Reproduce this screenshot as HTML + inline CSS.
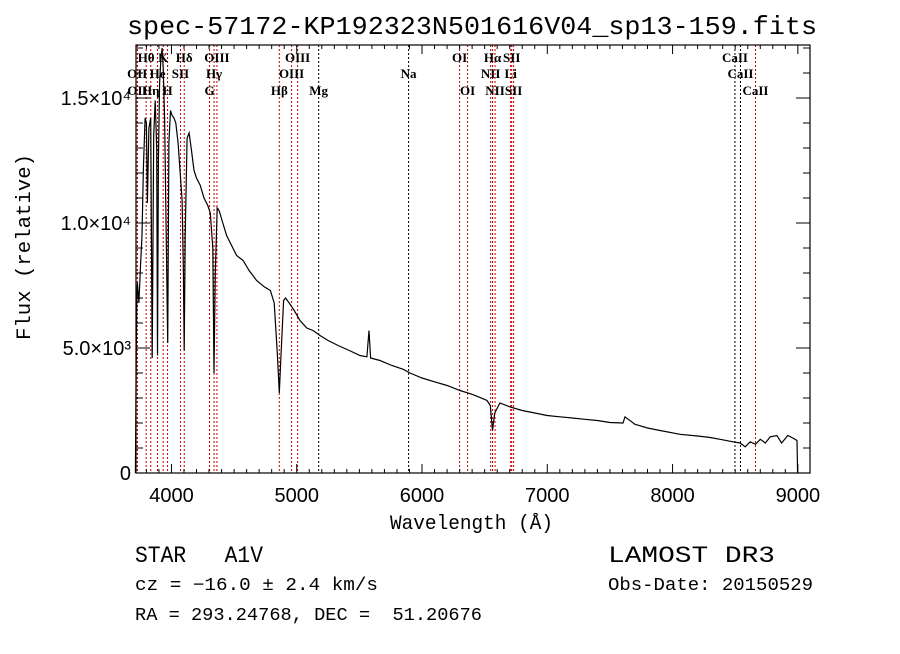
<!DOCTYPE html>
<html><head><meta charset="utf-8"><style>
body{margin:0;background:#fff;}
svg text{font-family:"Liberation Serif",serif;}
.mono{font-family:"Liberation Mono",monospace;}
.sans{font-family:"Liberation Sans",sans-serif;}
</style></head><body>
<svg id="chart" width="900" height="649" viewBox="0 0 900 649" xmlns="http://www.w3.org/2000/svg">
<rect width="900" height="649" fill="#fff"/>
<text x="127" y="34" textLength="690" lengthAdjust="spacingAndGlyphs" class="mono" font-size="26">spec-57172-KP192323N501616V04_sp13-159.fits</text>
<g id="lines"></g>
<g id="labels"></g>
<path id="spec" fill="none" stroke="#000" stroke-width="1.2"/>
<rect x="136" y="45" width="674" height="428" fill="none" stroke="#000" stroke-width="1.2"/>
<g id="ticks"></g>
<g id="xlabels"></g>
<g id="ylabels"></g>
<text x="390" y="529" textLength="163" lengthAdjust="spacingAndGlyphs" class="mono" font-size="20">Wavelength (Å)</text>
<text transform="translate(30,340) rotate(-90)" textLength="186" lengthAdjust="spacingAndGlyphs" class="mono" font-size="20">Flux (relative)</text>
<text x="135" y="562" textLength="128" lengthAdjust="spacingAndGlyphs" class="mono" font-size="23">STAR&#160;&#160;&#160;A1V</text>
<text x="608" y="562" textLength="167" lengthAdjust="spacingAndGlyphs" class="mono" font-size="23">LAMOST DR3</text>
<text x="135" y="590" textLength="243" lengthAdjust="spacingAndGlyphs" class="mono" font-size="18">cz = −16.0 ± 2.4 km/s</text>
<text x="608" y="590" textLength="205" lengthAdjust="spacingAndGlyphs" class="mono" font-size="18">Obs-Date: 20150529</text>
<text x="135" y="620" textLength="347" lengthAdjust="spacingAndGlyphs" class="mono" font-size="18">RA = 293.24768, DEC = &#160;51.20676</text>
</svg>
<script>
const wavelengths=[3712,3716,3722,3728,3740,3752,3765,3776,3790,3800,3808,3820,3834,3846,3858,3870,3882,3889,3896,3905,3915,3925,3934,3945,3960,3970,3980,3992,4005,4020,4035,4053,4070,4085,4095,4102,4110,4125,4141,4160,4180,4200,4230,4260,4290,4310,4330,4340,4350,4365,4380,4410,4440,4480,4520,4572,4620,4680,4740,4790,4820,4845,4861,4875,4895,4910,4940,4980,5026,5080,5130,5186,5250,5330,5420,5505,5560,5577,5590,5665,5760,5850,5904,6000,6100,6200,6303,6400,6450,6519,6545,6563,6580,6622,6700,6800,6900,6998,7100,7200,7300,7400,7500,7604,7620,7700,7800,7900,8059,8200,8300,8400,8482,8540,8580,8620,8662,8700,8740,8780,8833,8870,8920,8960,8993,8998];
const fluxes=[0,2700,6500,7600,6800,8200,9500,12200,14200,14000,10800,13800,14200,4600,13500,14900,13000,4700,12500,15600,16500,17000,16200,14200,9000,5200,13200,14500,14300,14200,14000,13200,12000,10900,8000,4900,9500,13400,13600,12900,12100,11800,11500,11000,10700,10400,9000,4000,8000,10600,10500,10000,9500,9100,8700,8500,8100,7700,7450,7300,6800,4800,3200,4800,6900,7000,6800,6500,6100,5800,5700,5500,5300,5100,4900,4700,4650,5700,4600,4500,4300,4150,4000,3800,3650,3500,3300,3150,3050,2900,2700,1700,2400,2800,2650,2500,2400,2300,2250,2200,2150,2100,2020,2000,2250,1950,1800,1700,1550,1480,1420,1330,1250,1200,1050,1250,1150,1350,1200,1450,1500,1200,1500,1400,1300,0];
const lineWl=[3727,3729,3798,3835,3889,3934,3969,4072,4102,4304,4340,4363,4861,4959,5007,5175,5893,6300,6364,6548,6563,6583,6708,6716,6731,8498,8542,8662];
const lineNames=["OII","OII","Hθ","Hη","He","K","H","SII","Hδ","G","Hγ","OIII","Hβ","OIII","OIII","Mg","Na","OI","OI","NII","Hα","NII","Li","SII","SII","CaII","CaII","CaII"];
const lineRows=[1,2,0,2,1,0,2,1,0,2,1,0,2,1,0,2,1,0,2,1,0,2,1,0,2,0,1,2];
const lineRed=[1,1,1,1,1,1,1,1,1,1,1,1,1,1,1,0,0,1,1,1,1,1,1,1,1,0,0,1];
const xTicks=[4000,5000,6000,7000,8000,9000];
const yTicks=[0,5000,10000,15000];
const yTickLabels=["0","5.0×10³","1.0×10⁴","1.5×10⁴"];

const X0=136,X1=810,Y0=473,Y1=45,WMIN=3717,WMAX=9097,FMAX=17120;
const sx=w=>X0+(w-WMIN)/(WMAX-WMIN)*(X1-X0);
const sy=f=>Y0-f/FMAX*(Y0-Y1);
const NS="http://www.w3.org/2000/svg";
function mk(tag,attrs,parent){const e=document.createElementNS(NS,tag);for(const k in attrs)e.setAttribute(k,attrs[k]);parent.appendChild(e);return e;}

let d="";
wavelengths.forEach((w,i)=>{d+=(i?"L":"M")+sx(w).toFixed(1)+","+sy(fluxes[i]).toFixed(1);});
document.getElementById("spec").setAttribute("d",d);

const lg=document.getElementById("lines"),lb=document.getElementById("labels");
const rowY=[62,78,95];
lineWl.forEach((w,i)=>{
  const x=sx(w);
  const l=mk("line",{x1:x,x2:x,y1:Y1,y2:Y0,stroke:lineRed[i]?"#c00000":"#000","stroke-width":1,"stroke-dasharray":"2,2"},lg);
  
  
  const t=mk("text",{x:x,y:rowY[lineRows[i]],"text-anchor":"middle","font-size":13,"font-weight":"bold"},lb);
  t.textContent=lineNames[i];
  
  
});

const tg=document.getElementById("ticks");
for(let w=3800;w<=9000;w+=100){
  const x=sx(w),maj=w%1000===0,len=maj?9:4;
  const a=mk("line",{x1:x,x2:x,y1:Y0,y2:Y0-len,stroke:"#000"},tg);
  
  
  const b=mk("line",{x1:x,x2:x,y1:Y1,y2:Y1+len,stroke:"#000"},tg);
  
  
}
for(let f=0;f<=17000;f+=1000){
  const y=sy(f),maj=f%5000===0,len=maj?14:7;
  const a=mk("line",{x1:X0,x2:X0+len,y1:y,y2:y,stroke:"#000"},tg);
  
  
  const b=mk("line",{x1:X1,x2:X1-len,y1:y,y2:y,stroke:"#000"},tg);
  
  
}
const xl=document.getElementById("xlabels");
xTicks.forEach(w=>{
  const t=mk("text",{x:sx(w),y:502,"text-anchor":"middle","font-size":20,"class":"sans"},xl);
  t.textContent=w;
  
  
});
const yl=document.getElementById("ylabels");
yTicks.forEach((f,i)=>{
  const t=mk("text",{x:131,y:sy(f)+7,"text-anchor":"end","font-size":20,"class":"sans"},yl);
  t.textContent=yTickLabels[i];
  
  
});
</script>
</body></html>
